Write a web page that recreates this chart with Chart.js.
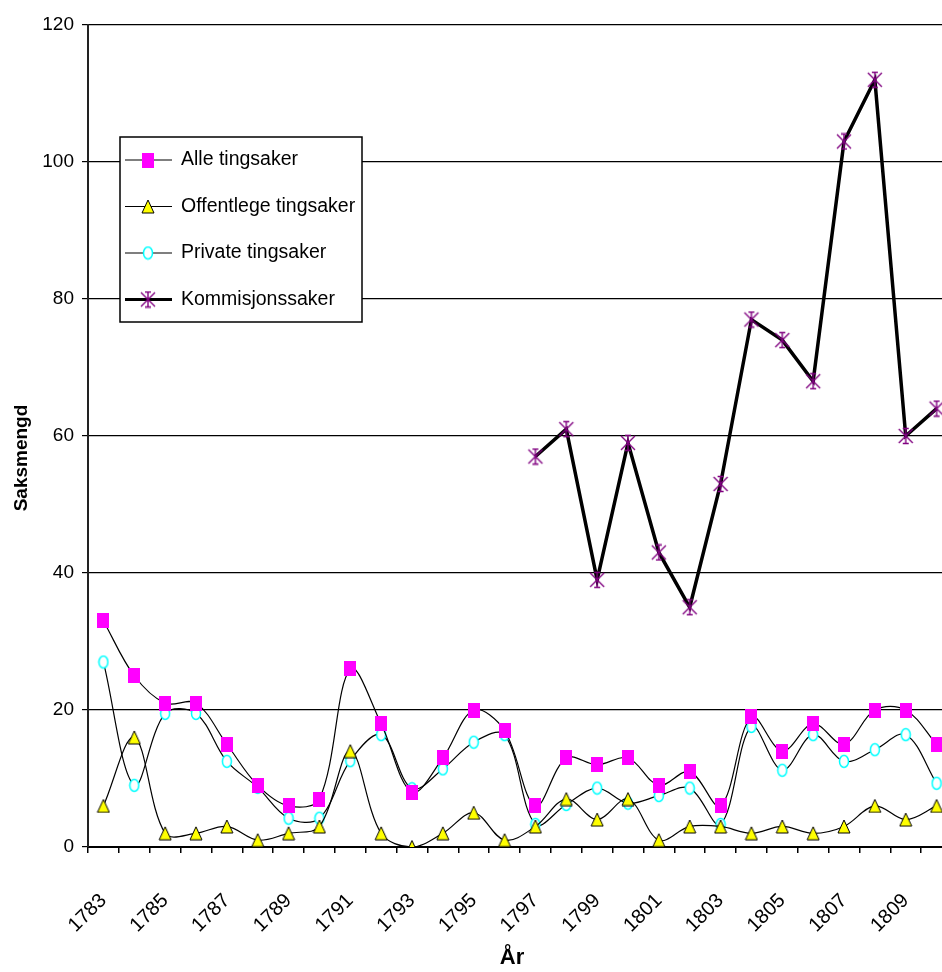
<!DOCTYPE html>
<html>
<head>
<meta charset="utf-8">
<title>Saksmengd</title>
<script src="https://cdn.jsdelivr.net/npm/chart.js@4.4.0/dist/chart.umd.min.js"></script>
<style>
    html, body { margin: 0; padding: 0; background: #fff; overflow: hidden; }
    #wrap { width: 960px; height: 972px; }
</style>
</head>
<body>
<div id="wrap"><canvas id="myLineChart" width="960" height="972"></canvas></div>
<script>
const years = ['1783', '1784', '1785', '1786', '1787', '1788', '1789', '1790', '1791', '1792',
               '1793', '1794', '1795', '1796', '1797', '1798', '1799', '1800', '1801', '1802',
               '1803', '1804', '1805', '1806', '1807', '1808', '1809', '1810'];

const alleTingsaker = [33, 25, 21, 21, 15, 9, 6, 7, 26, 18,
                       8, 13, 20, 17, 6, 13, 12, 13, 9, 11,
                       6, 19, 14, 18, 15, 20, 20, 15];

const offentlegeTingsaker = [6, 16, 2, 2, 3, 1, 2, 3, 14, 2,
                             0, 2, 5, 1, 3, 7, 4, 7, 1, 3,
                             3, 2, 3, 2, 3, 6, 4, 6];

const privateTingsaker = [27, 9, 19.5, 19.5, 12.5, 8.7, 4.2, 4.2, 12.6, 16.4,
                          8.5, 11.4, 15.3, 16.4, 3.3, 6.2, 8.6, 6.4, 7.5, 8.6,
                          3.3, 17.6, 11.2, 16.4, 12.5, 14.2, 16.4, 9.3];

const kommisjonssaker = [null, null, null, null, null, null, null, null, null, null,
                         null, null, null, null, 57, 61, 39, 59, 43, 35,
                         53, 77, 74, 68, 103, 112, 60, 64];

const seriesNames = ['Alle tingsaker', 'Offentlege tingsaker', 'Private tingsaker', 'Kommisjonssaker'];
const yTicks = [0, 20, 40, 60, 80, 100, 120];
const xTitle = 'År';
const yTitle = 'Saksmengd';

const fontFamily = "'Liberation Sans', Arial, sans-serif";

// small canvases used as point markers
function makeMarker(w, h, draw) {
    const c = document.createElement('canvas');
    c.width = w;
    c.height = h;
    draw(c.getContext('2d'), w, h);
    return c;
}

const squareMarker = makeMarker(12, 15, (ctx, w, h) => {
    ctx.fillStyle = '#FF00FF';
    ctx.fillRect(0, 0, w, h);
});

const triangleMarker = makeMarker(14, 15, (ctx, w, h) => {
    ctx.beginPath();
    ctx.moveTo(w / 2, 1);
    ctx.lineTo(w - 1, h - 1);
    ctx.lineTo(1, h - 1);
    ctx.closePath();
    ctx.fillStyle = '#FFFF00';
    ctx.fill();
    ctx.strokeStyle = '#000';
    ctx.lineWidth = 1;
    ctx.stroke();
});

const circleMarker = makeMarker(12, 15, (ctx, w, h) => {
    ctx.beginPath();
    ctx.ellipse(w / 2, h / 2, 4.5, 6, 0, 0, Math.PI * 2);
    ctx.fillStyle = '#fff';
    ctx.fill();
    ctx.strokeStyle = '#00FFFF';
    ctx.lineWidth = 1.5;
    ctx.stroke();
});

const starMarker = makeMarker(18, 18, (ctx, w, h) => {
    ctx.strokeStyle = '#800080';
    ctx.lineWidth = 1.4;
    ctx.beginPath();
    ctx.moveTo(w / 2, 1); ctx.lineTo(w / 2, h - 1);
    ctx.moveTo(2, 2); ctx.lineTo(w - 2, h - 2);
    ctx.moveTo(w - 2, 2); ctx.lineTo(2, h - 2);
    ctx.moveTo(w / 2 - 3, 1.5); ctx.lineTo(w / 2 + 3, 1.5);
    ctx.moveTo(w / 2 - 3, h - 1.5); ctx.lineTo(w / 2 + 3, h - 1.5);
    ctx.stroke();
});

// legend box inside the plot plus the two axis titles
const boxLegend = {
    id: 'boxLegend',
    afterDraw(chart) {
        const ctx = chart.ctx;
        const x = 120, y = 137, w = 242, h = 185;
        ctx.save();
        ctx.fillStyle = '#fff';
        ctx.fillRect(x, y, w, h);
        ctx.strokeStyle = '#000';
        ctx.lineWidth = 1.5;
        ctx.strokeRect(x, y, w, h);
        chart.data.datasets.forEach((ds, i) => {
            const rowY = y + 23 + i * 46.5;
            ctx.strokeStyle = '#000';
            ctx.lineWidth = ds.borderWidth > 2 ? 3 : 1.2;
            ctx.beginPath();
            ctx.moveTo(x + 5, rowY);
            ctx.lineTo(x + 52, rowY);
            ctx.stroke();
            const m = ds.pointStyle;
            ctx.drawImage(m, x + 28 - m.width / 2, rowY - m.height / 2);
            ctx.fillStyle = '#000';
            ctx.font = '19.5px ' + fontFamily;
            ctx.textBaseline = 'middle';
            ctx.textAlign = 'left';
            ctx.fillText(ds.label, x + 61, rowY);
        });

        ctx.fillStyle = '#000';
        ctx.textAlign = 'center';
        ctx.textBaseline = 'middle';
        ctx.font = 'bold 22px ' + fontFamily;
        ctx.fillText(xTitle, 512, 958);
        ctx.font = 'bold 19px ' + fontFamily;
        ctx.translate(22, 458);
        ctx.rotate(-Math.PI / 2);
        ctx.fillText(yTitle, 0, 0);
        ctx.restore();
    }
};

const ctx = document.getElementById('myLineChart');

const myLineChart = new Chart(ctx.getContext('2d'), {
    type: 'line',
    data: {
        labels: years,
        datasets: [
            {
                label: seriesNames[0],
                data: alleTingsaker,
                borderColor: '#000',
                borderWidth: 1.2,
                tension: 0.35,
                pointStyle: squareMarker,
                fill: false
            },
            {
                label: seriesNames[1],
                data: offentlegeTingsaker,
                borderColor: '#000',
                borderWidth: 1.2,
                tension: 0.35,
                pointStyle: triangleMarker,
                fill: false
            },
            {
                label: seriesNames[2],
                data: privateTingsaker,
                borderColor: '#000',
                borderWidth: 1.2,
                tension: 0.35,
                pointStyle: circleMarker,
                fill: false
            },
            {
                label: seriesNames[3],
                data: kommisjonssaker,
                borderColor: '#000',
                borderWidth: 3.5,
                tension: 0,
                pointStyle: starMarker,
                fill: false
            }
        ]
    },
    options: {
        responsive: false,
        animation: false,
        layout: {
            padding: { top: 25, right: 8, bottom: 0, left: 0 }
        },
        plugins: {
            legend: { display: false },
            tooltip: { enabled: false }
        },
        scales: {
            x: {
                offset: true,
                grid: {
                    display: true,
                    drawOnChartArea: false,
                    drawTicks: true,
                    tickLength: 6,
                    offset: true,
                    color: '#000',
                    lineWidth: 1.5
                },
                border: { display: true, color: '#000', width: 2 },
                ticks: {
                    autoSkip: false,
                    minRotation: 45,
                    maxRotation: 45,
                    padding: 36,
                    color: '#000',
                    font: { family: fontFamily, size: 20 },
                    callback: function(value, index) {
                        return index % 2 === 0 ? this.getLabelForValue(value) : '';
                    }
                },
                afterFit: scale => {
                    scale.height = 125;
                    scale.paddingLeft = 0;
                    scale.paddingRight = 0;
                }
            },
            y: {
                min: 0,
                max: 120,
                afterBuildTicks: scale => {
                    scale.ticks = yTicks.map(v => ({ value: v }));
                },
                grid: {
                    color: '#000',
                    lineWidth: 1.2,
                    drawTicks: true,
                    tickLength: 6,
                    tickColor: '#000'
                },
                border: { display: true, color: '#222', width: 2 },
                ticks: {
                    padding: 8,
                    color: '#000',
                    font: { family: fontFamily, size: 19 }
                },
                afterFit: scale => { scale.width = 88; }
            }
        }
    },
    plugins: [boxLegend]
});
</script>
</body>
</html>
